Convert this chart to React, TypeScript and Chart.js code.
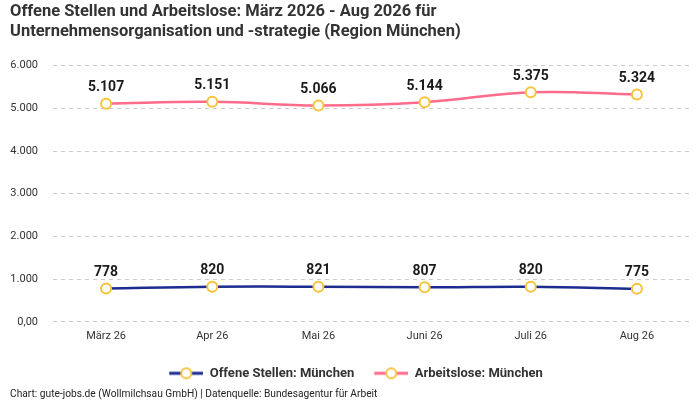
import React, { useEffect, useRef } from "react";
import { Chart, registerables } from "chart.js";

Chart.register(...registerables);

const categories = ["März 26", "Apr 26", "Mai 26", "Juni 26", "Juli 26", "Aug 26"];
const offeneStellen = [778, 820, 821, 807, 820, 775];
const arbeitslose = [5107, 5151, 5066, 5144, 5375, 5324];
const seriesNames = ["Offene Stellen: München", "Arbeitslose: München"];
const titleLines = [
  "Offene Stellen und Arbeitslose: März 2026 - Aug 2026 für",
  "Unternehmensorganisation und -strategie (Region München)",
];
const footerText = "Chart: gute-jobs.de (Wollmilchsau GmbH) | Datenquelle: Bundesagentur für Arbeit";

const BLUE = "#1d2c8f";
const PINK = "#ff6b8b";
const GOLD = "#f7c33b";
const FONT = "Roboto, 'Noto Sans', 'DejaVu Sans', sans-serif";

function fmt(v: number): string {
  if (v === 0) return "0,00";
  return v.toLocaleString("de-DE");
}

function legendIcon(color: string): HTMLCanvasElement {
  const c = document.createElement("canvas");
  c.width = 46;
  c.height = 14;
  const ctx = c.getContext("2d")!;
  ctx.strokeStyle = color;
  ctx.lineWidth = 3;
  ctx.beginPath();
  ctx.moveTo(12, 7);
  ctx.lineTo(46, 7);
  ctx.stroke();
  ctx.beginPath();
  ctx.arc(29, 7, 5, 0, Math.PI * 2);
  ctx.fillStyle = "#ffffff";
  ctx.fill();
  ctx.strokeStyle = GOLD;
  ctx.lineWidth = 2;
  ctx.stroke();
  return c;
}

const dataLabelPlugin = {
  id: "dataLabels",
  afterDatasetsDraw(chart: any) {
    const ctx = chart.ctx;
    ctx.save();
    ctx.font = `bold 14px ${FONT}`;
    ctx.fillStyle = "#1a1a1a";
    ctx.textAlign = "center";
    ctx.textBaseline = "bottom";
    chart.data.datasets.forEach((ds: any, i: number) => {
      const meta = chart.getDatasetMeta(i);
      meta.data.forEach((pt: any, j: number) => {
        ctx.fillText(fmt(ds.data[j]), pt.x, pt.y - 9);
      });
    });
    ctx.restore();
  },
};

export default function App() {
  const ref = useRef<HTMLCanvasElement | null>(null);

  useEffect(() => {
    document.body.style.margin = "0";
    const icons = [legendIcon(BLUE), legendIcon(PINK)];
    const chart = new Chart(ref.current!, {
      type: "line",
      data: {
        labels: categories,
        datasets: [
          {
            label: seriesNames[0],
            data: offeneStellen,
            borderColor: BLUE,
            backgroundColor: BLUE,
            borderWidth: 2.5,
            tension: 0.4,
            pointRadius: 5,
            pointBorderWidth: 2,
            pointBackgroundColor: "#ffffff",
            pointBorderColor: GOLD,
          },
          {
            label: seriesNames[1],
            data: arbeitslose,
            borderColor: PINK,
            backgroundColor: PINK,
            borderWidth: 2.5,
            tension: 0.4,
            pointRadius: 5,
            pointBorderWidth: 2,
            pointBackgroundColor: "#ffffff",
            pointBorderColor: GOLD,
          },
        ],
      },
      options: {
        responsive: false,
        animation: false,
        layout: { padding: { left: 10, right: 10, top: 0, bottom: 0 } },
        scales: {
          x: {
            offset: true,
            grid: { display: false, drawTicks: false },
            border: { display: false },
            afterFit: (s: any) => {
              s.height = 37;
            },
            ticks: { color: "#333", font: { family: FONT, size: 11 }, padding: 8 },
          },
          y: {
            min: 0,
            max: 6000,
            afterFit: (s: any) => {
              s.width = 43;
            },
            ticks: {
              stepSize: 1000,
              color: "#333",
              font: { family: FONT, size: 11 },
              padding: 15,
              callback: (v: any) => fmt(Number(v)),
            },
            grid: { color: "#cccccc", drawTicks: false },
            border: { display: false, dash: [4, 4] },
          },
        },
        plugins: {
          title: {
            display: true,
            text: titleLines,
            align: "start",
            color: "#333",
            font: { family: FONT, size: 16.5, weight: "bold", lineHeight: 1.2 },
            padding: { top: 2, bottom: 24 },
          },
          subtitle: {
            display: true,
            text: footerText,
            position: "bottom",
            align: "start",
            color: "#222",
            font: { family: FONT, size: 10.2, lineHeight: 1.0 },
            padding: { top: 0, bottom: 0 },
          },
          legend: {
            position: "bottom",
            labels: {
              usePointStyle: true,
              pointStyleWidth: 46,
              color: "#333",
              font: { family: FONT, size: 13, weight: "bold" },
              padding: 8,
              generateLabels: (ch: any) =>
                ch.data.datasets.map((ds: any, i: number) => ({
                  text: ds.label,
                  pointStyle: icons[i],
                  fillStyle: ds.borderColor,
                  strokeStyle: ds.borderColor,
                  fontColor: "#333",
                  datasetIndex: i,
                  hidden: false,
                  lineWidth: 0,
                })),
            },
          },
          tooltip: { enabled: false },
        },
      },
      plugins: [dataLabelPlugin],
    } as any);
    return () => chart.destroy();
  }, []);

  return (
    <div style={{ width: 700, height: 400 }}>
      <canvas ref={ref} width={700} height={400} style={{ display: "block" }} />
    </div>
  );
}
